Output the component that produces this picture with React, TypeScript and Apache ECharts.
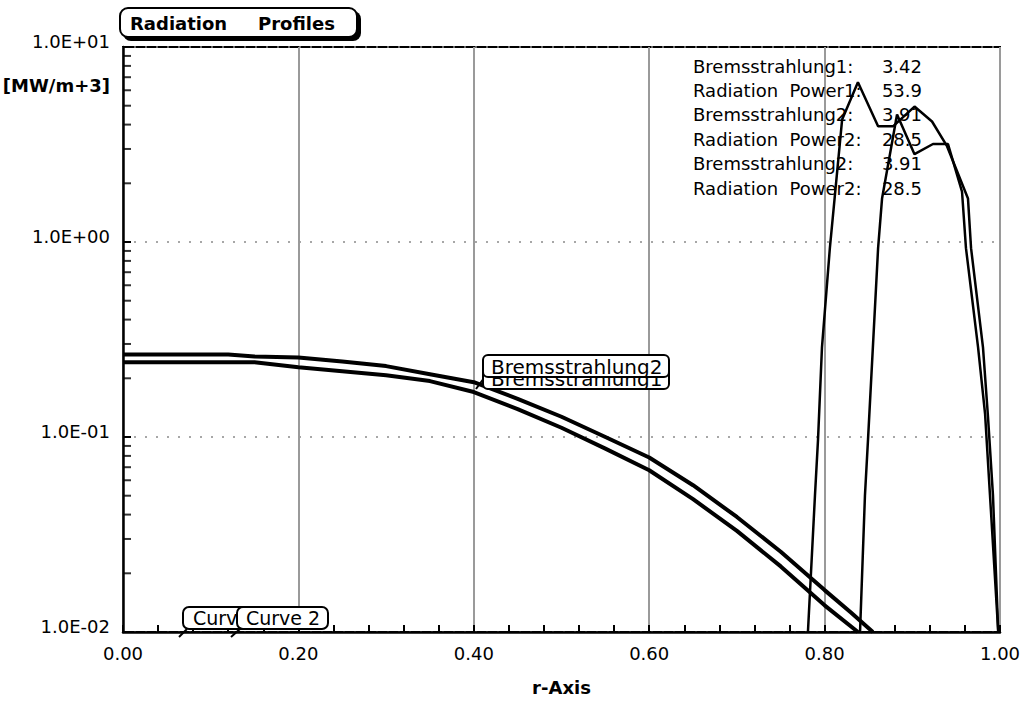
import React, { useEffect, useRef } from 'react';
import * as echarts from 'echarts';

// ---- data ----
const brems2R = [0, 0.12, 0.15, 0.2, 0.25, 0.3, 0.35, 0.4, 0.45, 0.5, 0.55, 0.6, 0.65, 0.7, 0.75, 0.8, 0.83, 0.855];
const brems2V = [0.265, 0.265, 0.259, 0.256, 0.244, 0.231, 0.21, 0.191, 0.157, 0.127, 0.1, 0.0785, 0.0566, 0.0389, 0.0258, 0.0164, 0.0126, 0.01];

const brems1R = [0, 0.15, 0.2, 0.3, 0.35, 0.4, 0.45, 0.5, 0.55, 0.6, 0.65, 0.7, 0.75, 0.8, 0.838];
const brems1V = [0.242, 0.242, 0.228, 0.2075, 0.1935, 0.17, 0.139, 0.1115, 0.0872, 0.0675, 0.048, 0.033, 0.0217, 0.0137, 0.01];

const power1R = [0.781, 0.789, 0.7925, 0.797, 0.806, 0.82, 0.838, 0.861, 0.878, 0.9025, 0.9225, 0.9396, 0.9635, 0.967, 0.9806, 0.9863, 0.992, 0.998];
const power1V = [0.01, 0.05, 0.097, 0.288, 0.93, 4.25, 6.6, 3.92, 3.92, 4.95, 4.15, 3.1, 1.67, 0.93, 0.288, 0.127, 0.05, 0.01];

const power2R = [0.8404, 0.846, 0.8495, 0.861, 0.8655, 0.8826, 0.9025, 0.9236, 0.9407, 0.9567, 0.9612, 0.975, 0.983, 0.998];
const power2V = [0.01, 0.05, 0.097, 0.93, 1.67, 4.51, 2.82, 3.18, 3.18, 1.81, 0.93, 0.288, 0.131, 0.01];

const yTickLabels = ['1.0E-02', '1.0E-01', '1.0E+00', '1.0E+01'];
const xTickLabels = ['0.00', '0.20', '0.40', '0.60', '0.80', '1.00'];
const yMinorTicks = [0.02, 0.03, 0.04, 0.05, 0.06, 0.07, 0.08, 0.09, 0.2, 0.3, 0.4, 0.5, 0.6, 0.7, 0.8, 0.9, 2, 3, 4, 5, 6, 7, 8, 9];

const infoNames = ['Bremsstrahlung1:', 'Radiation  Power1:', 'Bremsstrahlung2:', 'Radiation  Power2:', 'Bremsstrahlung2:', 'Radiation  Power2:'];
const infoValues = ['3.42', '53.9', '3.91', '28.5', '3.91', '28.5'];

const FONT = '"DejaVu Sans", "Liberation Sans", sans-serif';

const pairs = (r: number[], v: number[]) => r.map((x, i) => [x, v[i]]);

export default function App() {
  const ref = useRef<HTMLDivElement>(null);
  useEffect(() => {
    if (!ref.current) return;
    const chart = echarts.init(ref.current, undefined, { renderer: 'svg' });

    const lineSeries = (name: string, data: number[][], width: number) => ({
      name,
      type: 'line',
      data,
      symbol: 'none',
      smooth: false,
      lineStyle: { color: '#000', width },
      z: 5,
    });

    const graphics: any[] = [];
    // Title box with shadow
    graphics.push({ type: 'rect', shape: { x: 123, y: 11, width: 238, height: 30, r: 8 }, style: { fill: '#000' }, z: 100 });
    graphics.push({ type: 'rect', shape: { x: 120, y: 8, width: 237, height: 29, r: 8 }, style: { fill: '#fff', stroke: '#000', lineWidth: 2 }, z: 101 });
    graphics.push({ type: 'text', x: 130, y: 23, style: { text: 'Radiation', font: `bold 18px ${FONT}`, fill: '#000', verticalAlign: 'middle' }, z: 102 });
    graphics.push({ type: 'text', x: 258, y: 23, style: { text: 'Profiles', font: `bold 18px ${FONT}`, fill: '#000', verticalAlign: 'middle' }, z: 102 });
    // unit
    graphics.push({ type: 'text', x: 110, y: 85, style: { text: '[MW/m+3]', font: `bold 18px ${FONT}`, fill: '#000', align: 'right', verticalAlign: 'middle' }, z: 102 });
    // info block
    infoNames.forEach((n, i) => {
      const y = 66 + i * 24.4;
      graphics.push({ type: 'text', x: 693, y, style: { text: n, font: `18px ${FONT}`, fill: '#000', verticalAlign: 'middle' }, z: 3 });
      graphics.push({ type: 'text', x: 922, y, style: { text: infoValues[i], font: `18px ${FONT}`, fill: '#000', align: 'right', verticalAlign: 'middle' }, z: 3 });
    });
    // Bremsstrahlung labels
    graphics.push({ type: 'line', shape: { x1: 484, y1: 378, x2: 476, y2: 389 }, style: { stroke: '#000', lineWidth: 2 }, z: 102 });
    graphics.push({ type: 'rect', shape: { x: 483, y: 367, width: 186, height: 22, r: 5 }, style: { fill: '#fff', stroke: '#000', lineWidth: 2 }, z: 102 });
    graphics.push({ type: 'text', x: 491, y: 379, style: { text: 'Bremsstrahlung1', font: `20px ${FONT}`, fill: '#000', verticalAlign: 'middle' }, z: 103 });
    graphics.push({ type: 'rect', shape: { x: 483, y: 355, width: 186, height: 22, r: 5 }, style: { fill: '#fff', stroke: '#000', lineWidth: 2 }, z: 104 });
    graphics.push({ type: 'text', x: 491, y: 367, style: { text: 'Bremsstrahlung2', font: `20px ${FONT}`, fill: '#000', verticalAlign: 'middle' }, z: 105 });
    // Curve labels (Curve 1 box is mostly hidden behind Curve 2)
    graphics.push({ type: 'line', shape: { x1: 187, y1: 629, x2: 179, y2: 637 }, style: { stroke: '#000', lineWidth: 2 }, z: 102 });
    graphics.push({ type: 'rect', shape: { x: 183, y: 607, width: 92, height: 22, r: 6 }, style: { fill: '#fff', stroke: '#000', lineWidth: 2 }, z: 102 });
    graphics.push({ type: 'text', x: 193, y: 618, style: { text: 'Curv', font: `19px ${FONT}`, fill: '#000', verticalAlign: 'middle' }, z: 103 });
    graphics.push({ type: 'line', shape: { x1: 240, y1: 629, x2: 231, y2: 637 }, style: { stroke: '#000', lineWidth: 2 }, z: 104 });
    graphics.push({ type: 'rect', shape: { x: 237, y: 607, width: 91, height: 22, r: 6 }, style: { fill: '#fff', stroke: '#000', lineWidth: 2 }, z: 104 });
    graphics.push({ type: 'text', x: 246, y: 618, style: { text: 'Curve 2', font: `19px ${FONT}`, fill: '#000', verticalAlign: 'middle' }, z: 105 });

    chart.setOption({
      animation: false,
      backgroundColor: '#fff',
      grid: { left: 123, right: 24, top: 47, bottom: 64, show: true, borderColor: '#000', borderWidth: 2, backgroundColor: 'transparent' },
      xAxis: {
        type: 'value',
        min: 0,
        max: 1,
        interval: 0.2,
        axisLine: { show: true, lineStyle: { color: '#000', width: 2.5 } },
        axisTick: { show: true, inside: true, length: 7, lineStyle: { color: '#000', width: 2 } },
        minorTick: { show: true, splitNumber: 5, length: 7, lineStyle: { color: '#000', width: 2 } },
        splitLine: { show: true, lineStyle: { color: '#9a9a9a', width: 2 } },
        axisLabel: {
          margin: 12,
          fontSize: 18,
          fontFamily: FONT,
          color: '#000',
          formatter: (v: number) => xTickLabels[Math.round(v / 0.2)] ?? '',
        },
        name: 'r-Axis',
        nameLocation: 'middle',
        nameGap: 46,
        nameTextStyle: { fontSize: 18, fontWeight: 'bold', fontFamily: FONT, color: '#000' },
      },
      yAxis: {
        type: 'log',
        logBase: 10,
        min: 0.01,
        max: 10,
        axisLine: { show: true, lineStyle: { color: '#000', width: 2.5 } },
        axisTick: { show: true, inside: true, length: 8, lineStyle: { color: '#000', width: 2 } },
        splitLine: { show: true, lineStyle: { color: '#8a8a8a', width: 1.5, type: [2, 9] } },
        axisLabel: {
          margin: 13,
          fontSize: 18,
          fontFamily: FONT,
          color: '#000',
          verticalAlign: 'bottom',
          lineHeight: 12,
          formatter: (v: number) => yTickLabels[Math.round(Math.log10(v)) + 2] ?? '',
        },
      },
      graphic: graphics,
      series: [
        {
          type: 'scatter',
          data: yMinorTicks.map((v) => [0, v]),
          symbol: 'rect',
          symbolSize: [8, 2],
          symbolOffset: [4, 0],
          itemStyle: { color: '#000' },
          silent: true,
          clip: false,
          z: 6,
        },
        lineSeries('Bremsstrahlung2', pairs(brems2R, brems2V), 4),
        lineSeries('Bremsstrahlung1', pairs(brems1R, brems1V), 4),
        lineSeries('Radiation Power1', pairs(power1R, power1V), 2.5),
        lineSeries('Radiation Power2', pairs(power2R, power2V), 2.5),
      ],
    });
    return () => chart.dispose();
  }, []);
  return <div ref={ref} style={{ position: 'absolute', left: 0, top: 0, width: 1024, height: 701 }} />;
}
